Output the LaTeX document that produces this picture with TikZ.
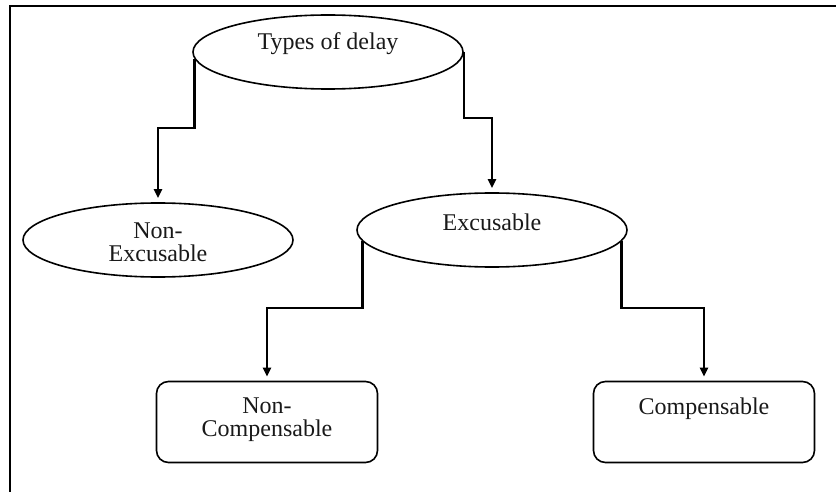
\documentclass[tikz,border=0pt]{standalone}
\usepackage{fontspec}
\setmainfont{Liberation Serif}
\usetikzlibrary{shapes.geometric,arrows.meta}
\begin{document}
\begin{tikzpicture}[x=1pt,y=-1pt,
  ell/.style={ellipse,draw,line width=1.6pt,minimum width=270pt,minimum height=74pt,inner sep=0pt},
  rbox/.style={draw,rounded corners=12pt,line width=1.6pt,minimum width=221pt,minimum height=81pt,inner sep=0pt},
  lbl/.style={font=\fontsize{24}{23}\selectfont,align=center,text=black!90,inner sep=0pt},
  conn/.style={line width=2.2pt,-{Triangle[length=9pt,width=8pt]},shorten >=4pt}]
\useasboundingbox (0,0) rectangle (836,492);
\draw[line width=2.5pt] (10,492) -- (10,6) -- (836,6);

\node[ell] (types) at (328,52) {};
\node[lbl] (typesT) at (328,44) {Types of delay};
\node[ell] (nonexc) at (158,240) {};
\node[lbl] (nonexcT) at (158,242) {Non-\\Excusable};
\node[ell] (excus) at (492,230) {};
\node[lbl] (excusT) at (492,222) {Excusable};
\node[rbox] (noncomp) at (267,422) {};
\node[lbl] (noncompT) at (267,420) {Non-\\Compensable};
\node[rbox] (comp) at (704,422) {};
\node[lbl] (compT) at (704,409) {Compensable};

\draw[conn] (types.183) -- ++(0,69) -| (nonexc.north);
\draw[conn] (types.east) -- ++(0,66) -| (excus.north);
\draw[conn] (excus.185) -- ++(0,67) -| (noncomp.north);
\draw[conn] (excus.355) -- ++(0,67) -| (comp.north);
\end{tikzpicture}
\end{document}
